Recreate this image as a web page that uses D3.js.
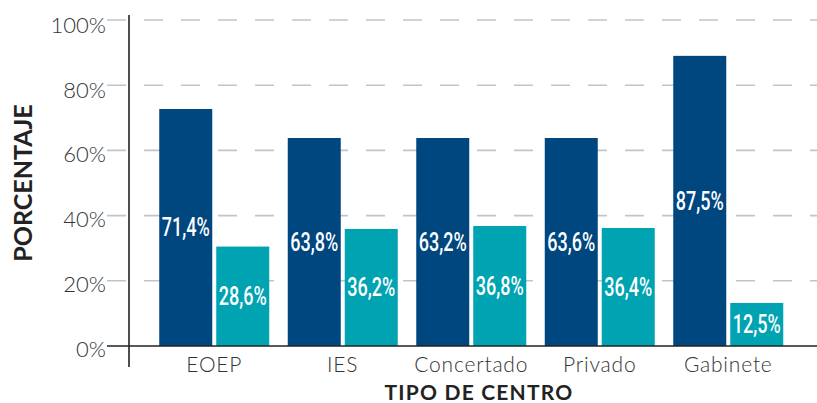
<!DOCTYPE html>
<html>
<head>
<meta charset="utf-8">
<script src="https://cdn.jsdelivr.net/npm/d3@7"></script>
<style>
  body { margin: 0; background: #fff; }
  text { font-family: Lato, "Open Sans", sans-serif; }
</style>
</head>
<body>
<div id="chart"></div>
<script>
// categories and series
const centros = ["EOEP", "IES", "Concertado", "Privado", "Gabinete"];
const series = ["a", "b"];
// bar heights as drawn in the original (percent)
const valoresA = [72.7, 63.8, 63.8, 63.8, 89.0];
const valoresB = [30.5, 35.9, 36.8, 36.2, 13.2];
// printed labels
const etiquetasA = ["71,4%", "63,8%", "63,2%", "63,6%", "87,5%"];
const etiquetasB = ["28,6%", "36,2%", "36,8%", "36,4%", "12,5%"];
const yTicks = [0, 20, 40, 60, 80, 100];

const colors = { a: "#00467f", b: "#00a3b2" };

const width = 817, height = 403;
const svg = d3.select("#chart").append("svg")
  .attr("width", width)
  .attr("height", height);

const y = d3.scaleLinear().domain([0, 100]).range([346, 20]);

const x0 = d3.scaleBand()
  .domain(centros)
  .range([150, 792.5])
  .paddingInner(0.144)
  .paddingOuter(0.072);

const x1 = d3.scaleBand()
  .domain(series)
  .range([0, x0.bandwidth()])
  .paddingInner(4 / 57);

// dashed gridlines
svg.selectAll(".grid")
  .data(yTicks.filter(d => d > 0))
  .enter().append("line")
  .attr("x1", 107).attr("x2", width)
  .attr("y1", d => y(d)).attr("y2", d => y(d))
  .attr("stroke", "#c4c4c4")
  .attr("stroke-width", 1.6)
  .attr("stroke-dasharray", "19,18");

// tick labels
svg.selectAll(".ytick")
  .data(yTicks)
  .enter().append("text")
  .attr("x", 106)
  .attr("y", d => y(d) + 3 + (d / 100) * 2)
  .attr("dy", "0.35em")
  .attr("text-anchor", "end")
  .attr("font-size", 22)
  .attr("font-weight", 300)
  .attr("fill", "#333")
  .text(d => d + "%");

// bars
const rows = centros.map((c, i) => ({
  centro: c,
  items: [
    { key: "a", value: valoresA[i], label: etiquetasA[i] },
    { key: "b", value: valoresB[i], label: etiquetasB[i] }
  ]
}));

const groups = svg.selectAll(".group")
  .data(rows)
  .enter().append("g")
  .attr("transform", d => `translate(${x0(d.centro)},0)`);

groups.selectAll("rect")
  .data(d => d.items)
  .enter().append("rect")
  .attr("x", d => x1(d.key))
  .attr("y", d => y(d.value))
  .attr("width", x1.bandwidth())
  .attr("height", d => y(0) - y(d.value))
  .attr("fill", d => colors[d.key]);

groups.selectAll(".lbl")
  .data(d => d.items)
  .enter().append("text")
  .attr("x", d => x1(d.key) + x1.bandwidth() / 2)
  .attr("y", d => (y(d.value) + y(0)) / 2)
  .attr("dy", "0.36em")
  .attr("text-anchor", "middle")
  .attr("fill", "#fff")
  .attr("font-weight", 500)
  .attr("font-size", 25)
  .attr("textLength", 48)
  .attr("lengthAdjust", "spacingAndGlyphs")
  .style("font-family", "Roboto, sans-serif")
  .text(d => d.label);

// baseline and y axis line
svg.append("line")
  .attr("x1", 107).attr("x2", width)
  .attr("y1", y(0)).attr("y2", y(0))
  .attr("stroke", "#222").attr("stroke-width", 1.6);

svg.append("line")
  .attr("x1", 129).attr("x2", 129)
  .attr("y1", 15).attr("y2", 367)
  .attr("stroke", "#222").attr("stroke-width", 1.6);

// category labels
svg.selectAll(".xlab")
  .data(centros)
  .enter().append("text")
  .attr("x", d => x0(d) + x0.bandwidth() / 2)
  .attr("y", 372)
  .attr("text-anchor", "middle")
  .attr("font-size", 21)
  .attr("font-weight", 300)
  .attr("letter-spacing", 0.8)
  .attr("fill", "#333")
  .text(d => d);

// axis titles
svg.append("text")
  .attr("x", 479).attr("y", 400)
  .attr("text-anchor", "middle")
  .attr("font-size", 21)
  .attr("font-weight", "bold")
  .attr("letter-spacing", 1.2)
  .attr("fill", "#222")
  .text("TIPO DE CENTRO");

svg.append("text")
  .attr("transform", "translate(32,183) rotate(-90)")
  .attr("text-anchor", "middle")
  .attr("font-size", 25)
  .attr("font-weight", "bold")
  .attr("fill", "#222")
  .text("PORCENTAJE");
</script>
</body>
</html>
